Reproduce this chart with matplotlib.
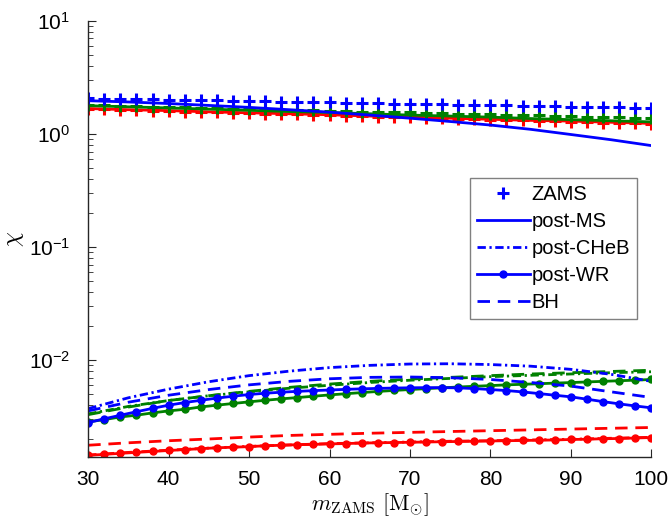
import numpy as np
import matplotlib
matplotlib.use("Agg")
import matplotlib.pyplot as plt
from matplotlib.lines import Line2D

plt.rcParams["font.family"] = ["Liberation Sans", "DejaVu Sans"]
plt.rcParams["mathtext.fontset"] = "cm"
plt.rcParams["axes.unicode_minus"] = False

# masses on the marker grid (every 2 Msun) and the line grid (every 5 Msun)
m_fine = np.arange(30, 101, 2)
m_coarse = np.arange(30, 101, 5)

# ZAMS (plus markers)
blue_zams = [2.07, 2.06, 2.05, 2.03, 2.02, 2.01, 2.00, 1.99, 1.98, 1.97, 1.96, 1.94,
             1.93, 1.92, 1.91, 1.90, 1.89, 1.88, 1.87, 1.86, 1.85, 1.84, 1.83, 1.82,
             1.81, 1.80, 1.79, 1.78, 1.77, 1.76, 1.75, 1.74, 1.73, 1.72, 1.71, 1.70]
green_zams = [1.80, 1.79, 1.77, 1.76, 1.75, 1.73, 1.72, 1.71, 1.69, 1.68, 1.67, 1.66,
              1.64, 1.63, 1.62, 1.61, 1.59, 1.58, 1.57, 1.56, 1.55, 1.54, 1.52, 1.51,
              1.50, 1.49, 1.48, 1.47, 1.46, 1.45, 1.43, 1.42, 1.41, 1.40, 1.39, 1.38]
red_zams = [1.66, 1.65, 1.63, 1.62, 1.60, 1.59, 1.58, 1.56, 1.55, 1.54, 1.52, 1.51,
            1.50, 1.49, 1.47, 1.46, 1.45, 1.44, 1.42, 1.41, 1.40, 1.39, 1.38, 1.36,
            1.35, 1.34, 1.33, 1.32, 1.31, 1.30, 1.28, 1.27, 1.26, 1.25, 1.24, 1.23]

# post-MS (solid)
blue_ms = [1.97, 1.92, 1.86, 1.79, 1.72, 1.64, 1.56, 1.47, 1.38, 1.29, 1.20, 1.10, 0.99, 0.89, 0.79]
green_ms = [1.78, 1.74, 1.70, 1.66, 1.62, 1.58, 1.55, 1.51, 1.47, 1.44, 1.41, 1.37, 1.34, 1.31, 1.28]
red_ms = [1.68, 1.64, 1.61, 1.57, 1.54, 1.51, 1.48, 1.44, 1.41, 1.38, 1.35, 1.32, 1.30, 1.27, 1.24]

# post-CHeB (dash-dot), units of 1e-3
blue_cheb = [3.73, 4.65, 5.55, 6.45, 7.3, 8.0, 8.6, 9.0, 9.25, 9.3, 9.15, 8.85, 8.3, 7.5, 6.5]
green_cheb = [3.35, 3.9, 4.4, 4.85, 5.25, 5.65, 6.0, 6.35, 6.65, 6.9, 7.15, 7.35, 7.55, 7.75, 7.9]
red_cheb = [1.45, 1.53, 1.60, 1.67, 1.73, 1.78, 1.83, 1.86, 1.89, 1.92, 1.94, 1.97, 2.00, 2.04, 2.08]

# post-WR (dots), units of 1e-3
blue_wr = [2.81, 3.03, 3.26, 3.50, 3.75, 4.00, 4.22, 4.42, 4.62, 4.80, 4.97, 5.10,
           5.21, 5.30, 5.38, 5.45, 5.52, 5.58, 5.63, 5.67, 5.70, 5.72, 5.72, 5.69,
           5.61, 5.50, 5.39, 5.24, 5.07, 4.90, 4.74, 4.52, 4.30, 4.11, 3.94, 3.79]
green_wr = [2.85, 2.98, 3.15, 3.26, 3.42, 3.56, 3.68, 3.86, 4.00, 4.14, 4.28, 4.42,
            4.55, 4.67, 4.80, 4.93, 5.05, 5.17, 5.29, 5.40, 5.50, 5.60, 5.70, 5.79,
            5.88, 5.96, 6.05, 6.12, 6.19, 6.27, 6.34, 6.42, 6.50, 6.58, 6.66, 6.75]
red_wr = [1.44, 1.47, 1.50, 1.53, 1.56, 1.59, 1.62, 1.65, 1.68, 1.70, 1.72, 1.75,
          1.77, 1.79, 1.80, 1.82, 1.83, 1.85, 1.86, 1.87, 1.88, 1.89, 1.90, 1.91,
          1.92, 1.93, 1.94, 1.95, 1.96, 1.97, 1.99, 2.00, 2.02, 2.03, 2.05, 2.07]

# BH (dashed), units of 1e-3
blue_bh = [3.56, 4.25, 4.9, 5.5, 6.05, 6.5, 6.85, 7.05, 7.1, 7.0, 6.75, 6.35, 5.9, 5.25, 4.68]
green_bh = [3.3, 3.85, 4.4, 4.85, 5.3, 5.75, 6.15, 6.5, 6.8, 7.05, 7.3, 7.55, 7.75, 7.95, 8.15]
red_bh = [1.77, 1.86, 1.94, 2.01, 2.09, 2.16, 2.21, 2.26, 2.30, 2.34, 2.38, 2.42, 2.46, 2.50, 2.54]

colors = {"blue": "#0000ff", "green": "#008000", "red": "#ff0000"}
series = {
    "blue": (blue_zams, blue_ms, blue_cheb, blue_wr, blue_bh),
    "green": (green_zams, green_ms, green_cheb, green_wr, green_bh),
    "red": (red_zams, red_ms, red_cheb, red_wr, red_bh),
}

dashdot = (0, (3, 1.3, 0.8, 1.3))
dashed = (0, (4.5, 2.8))
lw = 2.0

fig = plt.figure(figsize=(6.68, 5.23), dpi=100)
ax = fig.add_axes([0.132, 0.126, 0.843, 0.834])

for name in ["red", "green", "blue"]:
    zams, ms, cheb, wr, bh = series[name]
    c = colors[name]
    ax.plot(m_fine, zams, linestyle="none", marker="+", ms=9, mew=2.2, color=c)
    ax.plot(m_coarse, ms, "-", lw=lw, color=c)
    ax.plot(m_coarse, np.array(cheb) * 1e-3, linestyle=dashdot, lw=lw, color=c)
    ax.plot(m_fine, np.array(wr) * 1e-3, "-", marker="o", ms=5, lw=lw, color=c)
    ax.plot(m_coarse, np.array(bh) * 1e-3, linestyle=dashed, lw=lw, color=c)

ax.set_yscale("log")
ax.set_xlim(30, 100)
ax.set_ylim(1.39e-3, 10)
ax.set_xticks(np.arange(30, 101, 10))

for s in ["top", "right"]:
    ax.spines[s].set_visible(False)
for s in ["left", "bottom"]:
    ax.spines[s].set_color("#262626")
    ax.spines[s].set_linewidth(1.0)
ax.tick_params(which="both", direction="in", colors="#262626", labelcolor="black", labelsize=15)
ax.tick_params(which="major", length=6)
ax.tick_params(which="minor", length=3.5)
ax.tick_params(axis="x", pad=9)
ax.tick_params(axis="y", pad=13)

ax.set_xlabel(r"$m_{\rm ZAMS}\ [{\rm M}_{\odot}]$", fontsize=16, labelpad=2)
ax.set_ylabel(r"$\chi$", fontsize=17, labelpad=2)

handles = [
    Line2D([], [], linestyle="none", marker="+", ms=9, mew=2.2, color="blue"),
    Line2D([], [], linestyle="-", lw=lw, color="blue"),
    Line2D([], [], linestyle=dashdot, lw=lw, color="blue"),
    Line2D([], [], linestyle="-", marker="o", ms=5, lw=lw, color="blue"),
    Line2D([], [], linestyle=dashed, lw=lw, color="blue"),
]
labels = ["ZAMS", "post-MS", "post-CHeB", "post-WR", "BH"]
leg = ax.legend(handles, labels, loc="upper right", bbox_to_anchor=(0.975, 0.64),
                fontsize=14.5, frameon=True, fancybox=False, framealpha=1,
                edgecolor="#808080", handlelength=2.6, handletextpad=0.1,
                labelspacing=0.4, borderpad=0.35, borderaxespad=0)
leg.get_frame().set_linewidth(1.0)

fig.savefig("out.png", dpi=100)
